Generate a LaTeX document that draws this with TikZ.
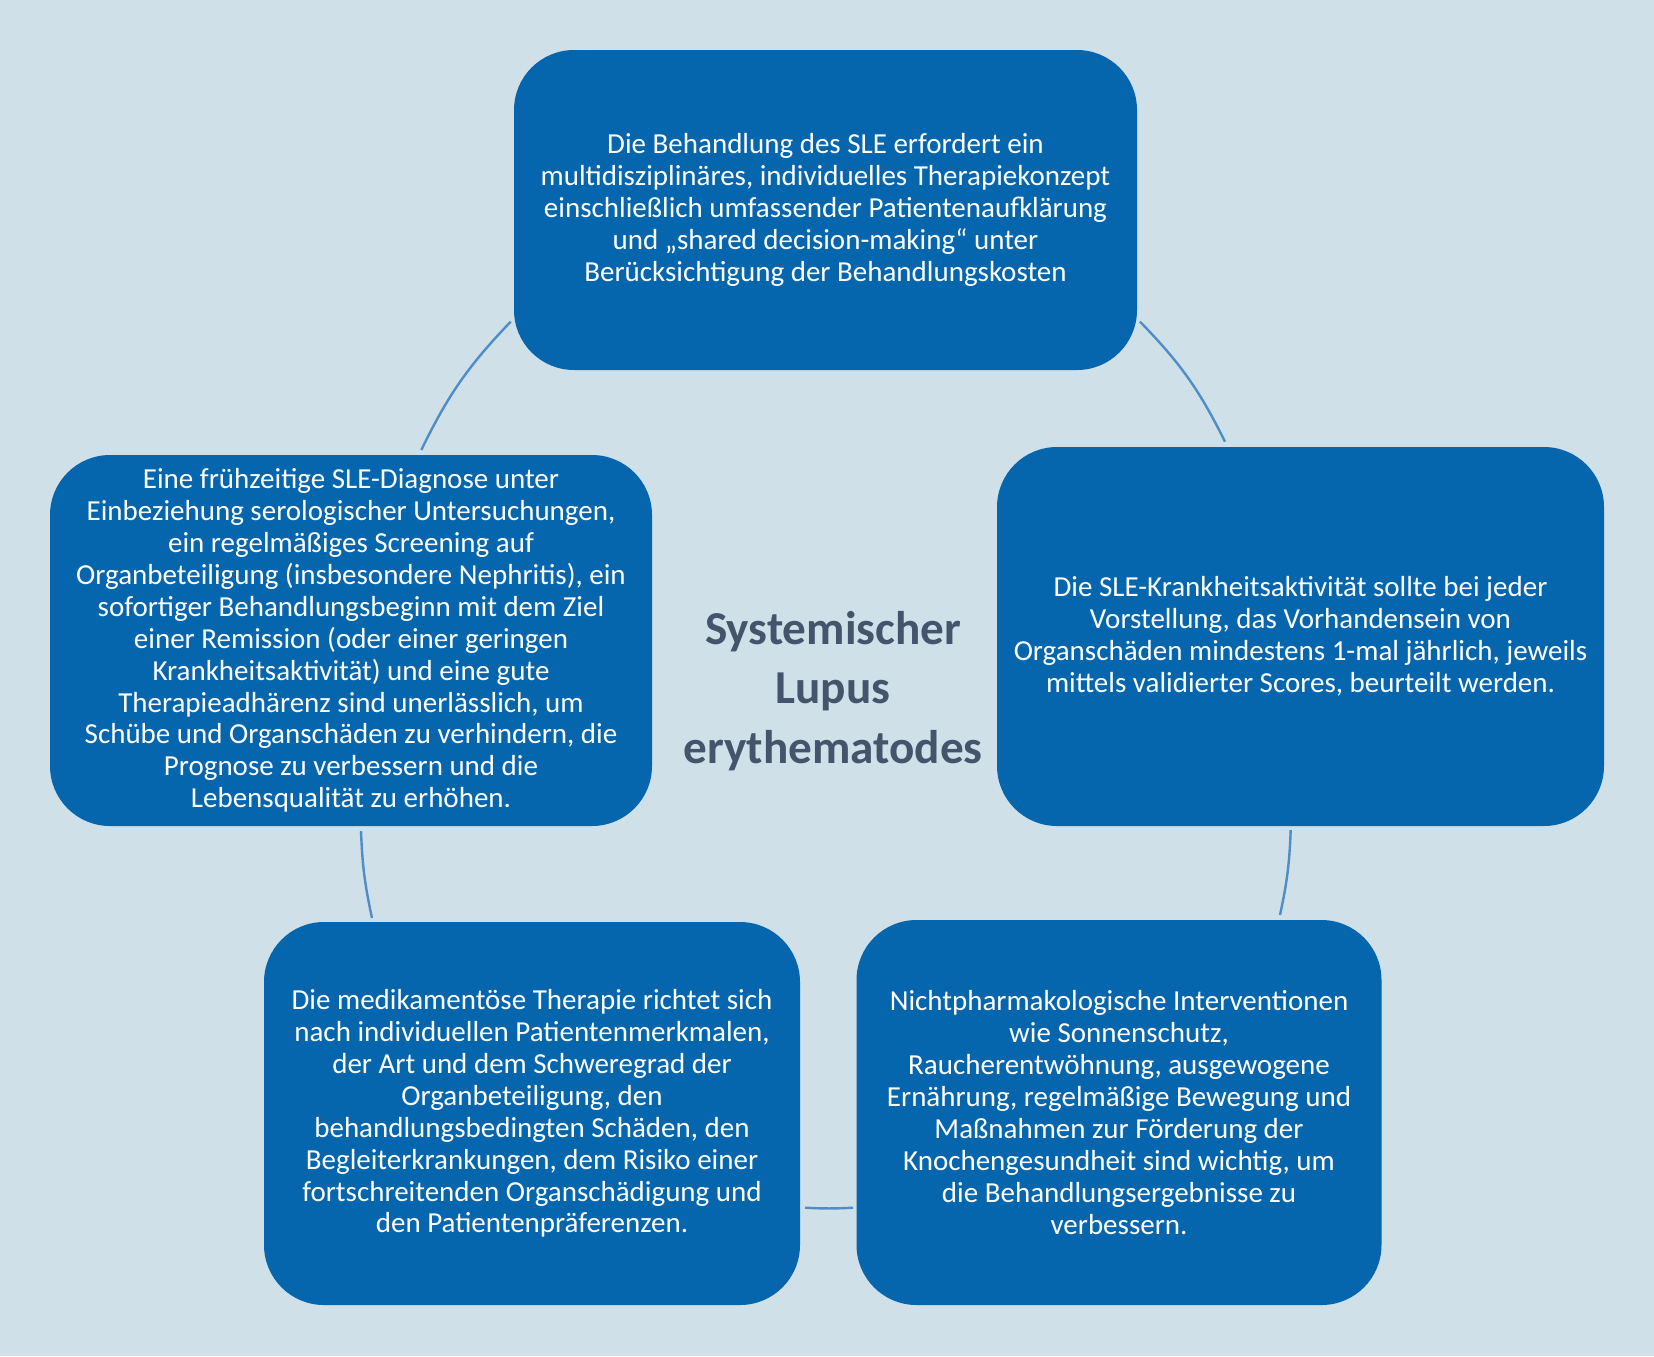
\documentclass[tikz,border=0pt]{standalone}
\usepackage{fontspec}
\setmainfont{Carlito}
\definecolor{bgc}{HTML}{CFE0E9}
\definecolor{boxc}{HTML}{0566AE}
\definecolor{arcc}{HTML}{4F8CC8}
\definecolor{titlec}{HTML}{44546A}
\tikzset{
  bluebox/.style={rectangle, rounded corners=30pt, fill=boxc, text=white, align=center,
    inner sep=0pt, font=\fontsize{14.5}{15.95}\selectfont},
  cyclearc/.style={draw=arcc, line width=1.2pt},
}
\begin{document}
\begin{tikzpicture}[x=0.5pt, y=-0.5pt]
\fill[bgc] (0,0) rectangle (1654,1356);
\useasboundingbox (0,0) rectangle (1654,1356);

\node[bluebox, minimum width=311.5pt, minimum height=160pt] (top) at (825.5,210)
{Die Behandlung des SLE erfordert ein\\
multidisziplinäres, individuelles Therapiekonzept\\
einschließlich umfassender Patientenaufklärung\\
und „shared decision-making“ unter\\
Berücksichtigung der Behandlungskosten};

\node[bluebox, minimum width=303.5pt, minimum height=189.5pt] (right) at (1300.5,636.5)
{Die SLE-Krankheitsaktivität sollte bei jeder\\
Vorstellung, das Vorhandensein von\\
Organschäden mindestens 1-mal jährlich, jeweils\\
mittels validierter Scores, beurteilt werden.};

\node[bluebox, minimum width=262.5pt, minimum height=192.5pt] (bright) at (1119,1112.5)
{Nichtpharmakologische Interventionen\\
wie Sonnenschutz,\\
Raucherentwöhnung, ausgewogene\\
Ernährung, regelmäßige Bewegung und\\
Maßnahmen zur Förderung der\\
Knochengesundheit sind wichtig, um\\
die Behandlungsergebnisse zu\\
verbessern.};

\node[bluebox, minimum width=268pt, minimum height=191.5pt] (bleft) at (532,1113.5)
{Die medikamentöse Therapie richtet sich\\
nach individuellen Patientenmerkmalen,\\
der Art und dem Schweregrad der\\
Organbeteiligung, den\\
behandlungsbedingten Schäden, den\\
Begleiterkrankungen, dem Risiko einer\\
fortschreitenden Organschädigung und\\
den Patientenpräferenzen.};

\node[bluebox, minimum width=301pt, minimum height=185.5pt] (left) at (351,640.5)
{Eine frühzeitige SLE-Diagnose unter\\
Einbeziehung serologischer Untersuchungen,\\
ein regelmäßiges Screening auf\\
Organbeteiligung (insbesondere Nephritis), ein\\
sofortiger Behandlungsbeginn mit dem Ziel\\
einer Remission (oder einer geringen\\
Krankheitsaktivität) und eine gute\\
Therapieadhärenz sind unerlässlich, um\\
Schübe und Organschäden zu verhindern, die\\
Prognose zu verbessern und die\\
Lebensqualität zu erhöhen.};

\node[text=titlec, align=center, inner sep=0pt,
  font=\fontsize{23.6}{29.8}\selectfont\bfseries] (title) at (833,691)
{Systemischer\\ Lupus\\ erythematodes};

\coordinate (a1s) at (510.7,321.7);
\coordinate (a1e) at (421.3,450);
\coordinate (a2s) at (1140,321.7);
\coordinate (a2e) at (1225,441.7);
\coordinate (a3s) at (1290.7,830);
\coordinate (a3e) at (1280,915);
\coordinate (a4s) at (853,1207.7);
\coordinate (a4e) at (805,1207.7);
\coordinate (a5s) at (372,918);
\coordinate (a5e) at (361,831);

\draw[cyclearc] (a1s) to[bend right=9] (a1e);
\draw[cyclearc] (a2s) to[bend left=9] (a2e);
\draw[cyclearc] (a3s) to[bend left=5] (a3e);
\draw[cyclearc] (a4s) to[bend left=3] (a4e);
\draw[cyclearc] (a5s) to[bend left=5] (a5e);
\end{tikzpicture}
\end{document}
